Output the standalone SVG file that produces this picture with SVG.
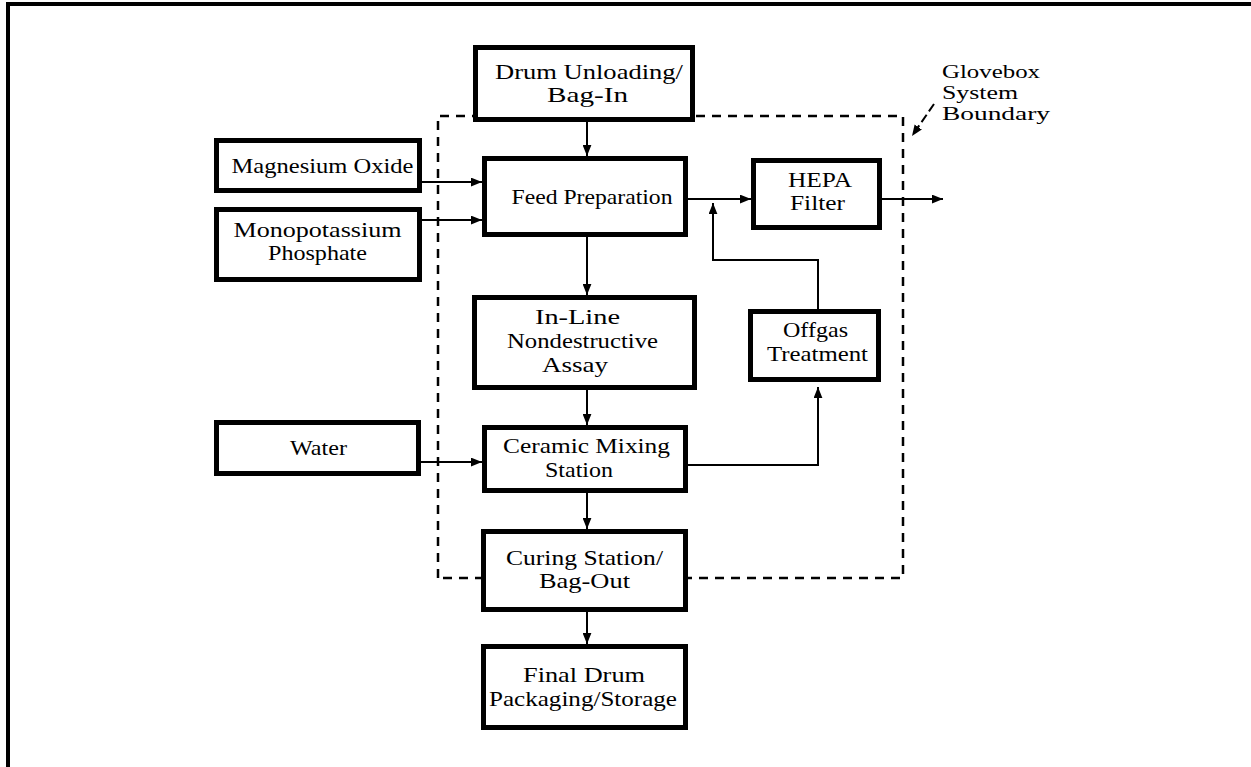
<svg xmlns="http://www.w3.org/2000/svg" width="1251" height="767" viewBox="0 0 1251 767">
  <style>
    .box { fill: #fff; stroke: #000; stroke-width: 5; }
    .lbl { font-family: "Liberation Serif", "Times New Roman", serif; font-size: 22px; fill: #000; text-anchor: middle; }
    .note { font-family: "Liberation Serif", "Times New Roman", serif; font-size: 18px; fill: #000; }
    .wire { fill: none; stroke: #000; stroke-width: 2; }
    .bound { fill: none; stroke: #000; stroke-width: 2.5; stroke-dasharray: 9 7; }
    .frame { fill: none; stroke: #000; stroke-width: 4; }
  </style>
  <defs>
    <marker id="arr" viewBox="0 0 10 8" refX="10" refY="4" markerWidth="11" markerHeight="9" orient="auto" markerUnits="userSpaceOnUse">
      <path d="M0,0 L10,4 L0,8 z" fill="#000"/>
    </marker>
  </defs>

  <rect x="0" y="0" width="1251" height="767" fill="#fff"/>

  <!-- page frame -->
  <path class="frame" d="M8,767 V4 H1251"/>

  <!-- glovebox system boundary -->
  <g id="boundary">
    <path class="bound" d="M438,578 V116 H903 V578 H438"/>
    <path class="wire" d="M934,104 L912,136" stroke-dasharray="9 4" marker-end="url(#arr)"/>
    <text class="note" x="942" y="78" textLength="98" lengthAdjust="spacingAndGlyphs">Glovebox</text>
    <text class="note" x="942" y="99" textLength="76" lengthAdjust="spacingAndGlyphs">System</text>
    <text class="note" x="942" y="120" textLength="108" lengthAdjust="spacingAndGlyphs">Boundary</text>
  </g>

  <!-- connectors -->
  <g id="connectors">
    <path class="wire" d="M587,122 V156" marker-end="url(#arr)"/>
    <path class="wire" d="M422,182 H482" marker-end="url(#arr)"/>
    <path class="wire" d="M422,220 H482" marker-end="url(#arr)"/>
    <path class="wire" d="M587,237 V295" marker-end="url(#arr)"/>
    <path class="wire" d="M587,390 V425" marker-end="url(#arr)"/>
    <path class="wire" d="M421,462 H482" marker-end="url(#arr)"/>
    <path class="wire" d="M587,493 V529" marker-end="url(#arr)"/>
    <path class="wire" d="M587,612 V644" marker-end="url(#arr)"/>
    <path class="wire" d="M688,199 H751" marker-end="url(#arr)"/>
    <path class="wire" d="M882,199 H943" marker-end="url(#arr)"/>
    <path class="wire" d="M688,465 H818 V387" marker-end="url(#arr)"/>
    <path class="wire" d="M818,309 V260 H713 V203" marker-end="url(#arr)"/>
  </g>

  <g id="drum-unloading">
    <rect class="box" x="475.5" y="47.5" width="217" height="72"/>
    <text class="lbl" x="589" y="79" textLength="188" lengthAdjust="spacingAndGlyphs">Drum Unloading/</text>
    <text class="lbl" x="587.5" y="102" textLength="81" lengthAdjust="spacingAndGlyphs">Bag-In</text>
  </g>

  <g id="magnesium-oxide">
    <rect class="box" x="216.5" y="140.5" width="203" height="50"/>
    <text class="lbl" x="322.5" y="173" textLength="182" lengthAdjust="spacingAndGlyphs">Magnesium Oxide</text>
  </g>

  <g id="monopotassium-phosphate">
    <rect class="box" x="216.5" y="209.5" width="203" height="70"/>
    <text class="lbl" x="317.5" y="237" textLength="168" lengthAdjust="spacingAndGlyphs">Monopotassium</text>
    <text class="lbl" x="317.5" y="260" textLength="99" lengthAdjust="spacingAndGlyphs">Phosphate</text>
  </g>

  <g id="feed-preparation">
    <rect class="box" x="484.5" y="158.5" width="201" height="76"/>
    <text class="lbl" x="592" y="204" textLength="161" lengthAdjust="spacingAndGlyphs">Feed Preparation</text>
  </g>

  <g id="hepa-filter">
    <rect class="box" x="753.5" y="160.5" width="126" height="67"/>
    <text class="lbl" x="820" y="187" textLength="64" lengthAdjust="spacingAndGlyphs">HEPA</text>
    <text class="lbl" x="817.5" y="210" textLength="55" lengthAdjust="spacingAndGlyphs">Filter</text>
  </g>

  <g id="nondestructive-assay">
    <rect class="box" x="474.5" y="297.5" width="220" height="90"/>
    <text class="lbl" x="577.5" y="324" textLength="85" lengthAdjust="spacingAndGlyphs">In-Line</text>
    <text class="lbl" x="582.5" y="348" textLength="151" lengthAdjust="spacingAndGlyphs">Nondestructive</text>
    <text class="lbl" x="575" y="372" textLength="66" lengthAdjust="spacingAndGlyphs">Assay</text>
  </g>

  <g id="offgas-treatment">
    <rect class="box" x="750.5" y="311.5" width="128" height="68"/>
    <text class="lbl" x="815.5" y="337" textLength="65" lengthAdjust="spacingAndGlyphs">Offgas</text>
    <text class="lbl" x="817.5" y="361" textLength="101" lengthAdjust="spacingAndGlyphs">Treatment</text>
  </g>

  <g id="water">
    <rect class="box" x="216.5" y="422.5" width="202" height="51"/>
    <text class="lbl" x="318.5" y="455" textLength="57" lengthAdjust="spacingAndGlyphs">Water</text>
  </g>

  <g id="ceramic-mixing">
    <rect class="box" x="484.5" y="427.5" width="201" height="63"/>
    <text class="lbl" x="586.5" y="453" textLength="167" lengthAdjust="spacingAndGlyphs">Ceramic Mixing</text>
    <text class="lbl" x="579" y="477" textLength="68" lengthAdjust="spacingAndGlyphs">Station</text>
  </g>

  <g id="curing-station">
    <rect class="box" x="483.5" y="531.5" width="202" height="78"/>
    <text class="lbl" x="584.5" y="565" textLength="157" lengthAdjust="spacingAndGlyphs">Curing Station/</text>
    <text class="lbl" x="584.5" y="588" textLength="91" lengthAdjust="spacingAndGlyphs">Bag-Out</text>
  </g>

  <g id="final-packaging">
    <rect class="box" x="483.5" y="646.5" width="202" height="81"/>
    <text class="lbl" x="584" y="682" textLength="122" lengthAdjust="spacingAndGlyphs">Final Drum</text>
    <text class="lbl" x="583" y="706" textLength="188" lengthAdjust="spacingAndGlyphs">Packaging/Storage</text>
  </g>
</svg>
